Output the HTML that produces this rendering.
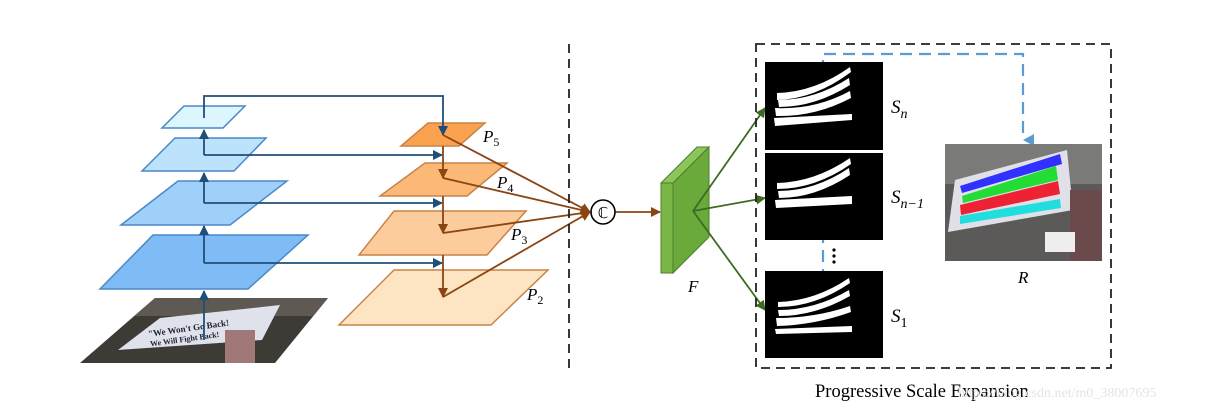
<!DOCTYPE html>
<html><head><meta charset="utf-8"><style>
html,body{margin:0;padding:0;background:#fff;}
svg{display:block;}
text{font-family:"Liberation Serif",serif;}
</style></head><body>
<svg width="1207" height="409" viewBox="0 0 1207 409" xmlns="http://www.w3.org/2000/svg">
<defs>
<marker id="ab" markerWidth="10" markerHeight="10" refX="9" refY="5" orient="auto" markerUnits="userSpaceOnUse"><path d="M0,0 L10,5 L0,10 z" fill="#1f4e79"/></marker>
<marker id="ao" markerWidth="10" markerHeight="10" refX="9" refY="5" orient="auto" markerUnits="userSpaceOnUse"><path d="M0,0 L10,5 L0,10 z" fill="#8b4513"/></marker>
<marker id="ag" markerWidth="10" markerHeight="10" refX="9" refY="5" orient="auto" markerUnits="userSpaceOnUse"><path d="M0,0 L10,5 L0,10 z" fill="#3d6b22"/></marker>
<marker id="al" markerWidth="12" markerHeight="12" refX="6" refY="11" orient="auto-start-reverse" markerUnits="userSpaceOnUse"><path d="M0,0 L6,11 L12,0 z" fill="#5b9bd5"/></marker>
<clipPath id="c1"><polygon points="155,298 328,298 275,363 80,363"/></clipPath>
</defs>

<!-- input image -->
<g clip-path="url(#c1)">
<rect x="80" y="298" width="250" height="66" fill="#3e3a36"/>
<rect x="80" y="298" width="250" height="18" fill="#5e5952"/>
<polygon points="160,318 280,305 262,340 118,350" fill="#dfe2ea"/>
<text x="148" y="331" font-size="9" font-weight="bold" fill="#223" transform="rotate(-8 190 330)">"We Won't Go Back!</text>
<text x="150" y="341" font-size="8" font-weight="bold" fill="#223" transform="rotate(-8 190 340)">We Will Fight Back!</text>
<rect x="225" y="330" width="30" height="33" fill="#a07878"/>
</g>

<!-- blue layers -->
<polygon points="153,235 308,235 248,289 100,289" fill="#7fbcf5" stroke="#4a88c7" stroke-width="1.5"/>
<polygon points="178,181 287,181 230,225 121,225" fill="#9fd0fa" stroke="#4a88c7" stroke-width="1.5"/>
<polygon points="175,138 266,138 234,171 142,171" fill="#bde3fc" stroke="#4a88c7" stroke-width="1.5"/>
<polygon points="184,106 245,106 223,128 162,128" fill="#ddf6fd" stroke="#4a88c7" stroke-width="1.5"/>

<!-- orange layers -->
<polygon points="394,270 548,270 491,325 339,325" fill="#fde5c4" stroke="#c88447" stroke-width="1.5"/>
<polygon points="394,211 526,211 487,255 359,255" fill="#fccc9c" stroke="#c88447" stroke-width="1.5"/>
<polygon points="425,163 507,163 467,196 380,196" fill="#fcb877" stroke="#c88447" stroke-width="1.5"/>
<polygon points="428,123 485,123 459,146 401,146" fill="#fba251" stroke="#c88447" stroke-width="1.5"/>

<!-- blue connectors -->
<g stroke="#1f4e79" stroke-width="1.8" fill="none">
<line x1="204" y1="340" x2="204" y2="291" marker-end="url(#ab)"/>
<line x1="204" y1="263" x2="204" y2="226" marker-end="url(#ab)"/>
<line x1="204" y1="203" x2="204" y2="173" marker-end="url(#ab)"/>
<line x1="204" y1="155" x2="204" y2="130" marker-end="url(#ab)"/>
<polyline points="204,118 204,96 443,96 443,135" marker-end="url(#ab)"/>
<polyline points="204,155 442,155" marker-end="url(#ab)"/>
<polyline points="204,203 442,203" marker-end="url(#ab)"/>
<polyline points="204,263 442,263" marker-end="url(#ab)"/>
</g>

<!-- orange connectors -->
<g stroke="#8b4513" stroke-width="1.8" fill="none">
<line x1="443" y1="146" x2="443" y2="178" marker-end="url(#ao)"/>
<line x1="443" y1="196" x2="443" y2="233" marker-end="url(#ao)"/>
<line x1="443" y1="255" x2="443" y2="297" marker-end="url(#ao)"/>
<line x1="443" y1="135" x2="590" y2="212" marker-end="url(#ao)"/>
<line x1="443" y1="178" x2="590" y2="212" marker-end="url(#ao)"/>
<line x1="443" y1="233" x2="590" y2="212" marker-end="url(#ao)"/>
<line x1="443" y1="297" x2="590" y2="212" marker-end="url(#ao)"/>
<line x1="615" y1="212" x2="660" y2="212" marker-end="url(#ao)"/>
</g>

<g font-style="italic" font-size="17" fill="#000">
<text x="483" y="142">P<tspan font-size="12" dy="4" font-style="normal">5</tspan></text>
<text x="497" y="188">P<tspan font-size="12" dy="4" font-style="normal">4</tspan></text>
<text x="511" y="240">P<tspan font-size="12" dy="4" font-style="normal">3</tspan></text>
<text x="527" y="300">P<tspan font-size="12" dy="4" font-style="normal">2</tspan></text>
</g>

<line x1="569" y1="44" x2="569" y2="368" stroke="#222" stroke-width="1.8" stroke-dasharray="9,6"/>

<circle cx="603" cy="212" r="12" fill="#fff" stroke="#000" stroke-width="1.6"/>
<text x="603" y="218" font-size="15" text-anchor="middle" font-family="DejaVu Sans,sans-serif">ℂ</text>

<!-- F block -->
<polygon points="661,183 673,183 709,147 697,147" fill="#8cc55a" stroke="#4e7f2a" stroke-width="1"/>
<rect x="661" y="183" width="12" height="90" fill="#7ab648" stroke="#4e7f2a" stroke-width="1"/>
<polygon points="673,183 709,147 709,237 673,273" fill="#6aaa3a" stroke="#4e7f2a" stroke-width="1"/>
<text x="688" y="292" font-size="17" font-style="italic">F</text>

<g stroke="#3d6b22" stroke-width="1.8">
<line x1="693" y1="211" x2="765" y2="108" marker-end="url(#ag)"/>
<line x1="693" y1="211" x2="765" y2="198" marker-end="url(#ag)"/>
<line x1="693" y1="211" x2="765" y2="310" marker-end="url(#ag)"/>
</g>

<rect x="756" y="44" width="355" height="324" fill="none" stroke="#222" stroke-width="1.8" stroke-dasharray="9,6"/>

<polyline points="823,300 823,54 1023,54 1023,140" fill="none" stroke="#5b9bd5" stroke-width="2.2" stroke-dasharray="12,7" marker-end="url(#al)"/>

<g fill="#000">
<rect x="765" y="62" width="118" height="88"/>
<rect x="765" y="153" width="118" height="87"/>
<rect x="765" y="271" width="118" height="87"/>
</g>
<g fill="#fff">
<path d="M777,93 Q815,92 850,67 L851,72 Q815,99 777,100 z"/>
<path d="M778,100 Q815,100 849,78 L850,85 Q815,107 779,107 z"/>
<path d="M775,108 Q815,110 850,91 L851,98 Q815,117 776,116 z"/>
<path d="M774,118 L852,114 L852,120 L775,126 z"/>
<path d="M777,183 Q815,182 850,158 L851,164 Q815,189 777,189 z"/>
<path d="M778,191 Q815,191 849,168 L850,175 Q815,198 779,198 z"/>
<path d="M775,200 L852,196 L852,204 L776,208 z"/>
<path d="M778,302 Q815,301 849,278 L850,283 Q815,307 778,307 z"/>
<path d="M778,310 Q815,310 849,290 L850,296 Q815,316 779,316 z"/>
<path d="M776,318 Q815,318 850,306 L851,312 Q815,325 777,326 z"/>
<path d="M775,329 L852,326 L852,332 L776,334 z"/>
</g>
<g fill="#000"><circle cx="834" cy="250" r="1.6"/><circle cx="834" cy="256" r="1.6"/><circle cx="834" cy="262" r="1.6"/></g>

<g font-style="italic" font-size="19">
<text x="891" y="113">S<tspan font-size="14" dy="5">n</tspan></text>
<text x="891" y="203">S<tspan font-size="14" dy="5">n−1</tspan></text>
<text x="891" y="322">S<tspan font-size="14" dy="5" font-style="normal">1</tspan></text>
<text x="1018" y="283" font-size="17">R</text>
</g>

<rect x="945" y="144" width="157" height="117" fill="#5c5a58"/>
<rect x="945" y="144" width="157" height="40" fill="#7a7a78"/>
<polygon points="955,180 1067,150 1073,210 948,232" fill="#dfe0e8"/>
<polygon points="960,186 1060,154 1062,164 962,193" fill="#3030ff"/>
<polygon points="962,196 1056,166 1058,180 963,203" fill="#22dd33"/>
<polygon points="960,205 1058,181 1060,194 961,215" fill="#ee2233"/>
<polygon points="960,216 1060,199 1061,208 960,224" fill="#22dddd"/>
<rect x="1070" y="190" width="32" height="71" fill="#6a4a4a"/>
<rect x="1045" y="232" width="30" height="20" fill="#eee"/>

<text x="815" y="397" font-size="18.5">Progressive Scale Expansion</text>
<text x="958" y="397" font-size="14" fill="#e4e4e4" font-family="Liberation Sans,sans-serif">https://blog.csdn.net/m0_38007695</text>
</svg>
</body></html>
